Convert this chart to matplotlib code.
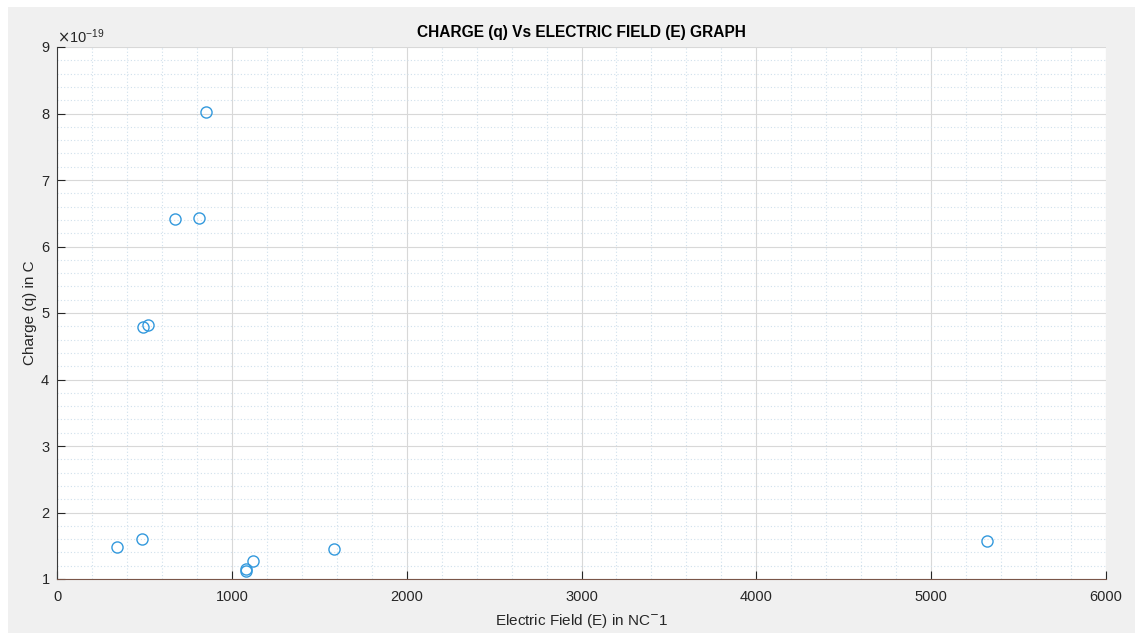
import numpy as np
import matplotlib
matplotlib.use('Agg')
import matplotlib.pyplot as plt
from matplotlib.patches import Rectangle
from matplotlib.ticker import ScalarFormatter

plt.rcParams['font.family'] = ['Liberation Sans', 'DejaVu Sans']

# data
E_field = [852, 675, 812, 492, 521, 343, 486, 1081, 1081, 1121, 1585, 5320]
charge = np.array([8.02, 6.41, 6.43, 4.79, 4.82, 1.48, 1.60, 1.15, 1.12, 1.27, 1.45, 1.57]) * 1e-19

x_ticks = [0, 1000, 2000, 3000, 4000, 5000, 6000]
y_ticks = np.array([1, 2, 3, 4, 5, 6, 7, 8, 9]) * 1e-19

W, H = 1135, 633
fig = plt.figure(figsize=(W/100, H/100), dpi=100)
fig.patch.set_facecolor('white')
# gray matlab figure background
bg = Rectangle((8/W, 0), 1 - 8/W, 626/H, transform=fig.transFigure,
               facecolor='#f0f0f0', edgecolor='none', zorder=-10)
fig.add_artist(bg)

ax = fig.add_axes([57/W, (H-579)/H, 1049/W, 532/H])
ax.set_zorder(1)
ax.set_facecolor('white')

ax.plot(E_field, charge, 'o', mfc='none', mec='#3399dd', ms=8, mew=1.0, zorder=5)

ax.set_xlim(0, 6000)
ax.set_ylim(1e-19, 9e-19)
ax.set_xticks(x_ticks)
ax.set_xticks(np.arange(200, 6000, 200), minor=True)
ax.set_yticks(y_ticks)
ax.set_yticks(np.arange(1.2, 9.0, 0.2) * 1e-19, minor=True)

fmt = ScalarFormatter(useMathText=True)
ax.yaxis.set_major_formatter(fmt)
ax.yaxis.get_offset_text().set_fontsize(10.5)
ax.yaxis.get_offset_text().set_color('#333333')

ax.grid(which='major', color='#d8d8d8', lw=0.8)
ax.grid(which='minor', color='#d0e0ec', lw=0.8, ls=(0, (1, 2)))
ax.set_axisbelow(True)

for s in ['top', 'right']:
    ax.spines[s].set_visible(False)
ax.spines['left'].set_color('#3a3a3a')
ax.spines['bottom'].set_color('#7a5548')
ax.tick_params(which='major', direction='in', length=6, width=0.8, colors='#262626',
               labelsize=10.5, pad=8)
ax.tick_params(axis='y', which='major', pad=5)
ax.tick_params(which='minor', length=0)

ax.set_title('CHARGE (q) Vs ELECTRIC FIELD (E) GRAPH', fontsize=11.2, fontweight='bold', pad=7)
ax.set_xlabel('Electric Field (E) in NC$^{\\mathrm{-}}$1', fontsize=11, color='#262626', labelpad=6)
ax.set_ylabel('Charge (q) in C', fontsize=11, color='#262626')
ax.yaxis.set_label_coords(-0.019, 0.5)

fig.savefig('out.png', dpi=100)
